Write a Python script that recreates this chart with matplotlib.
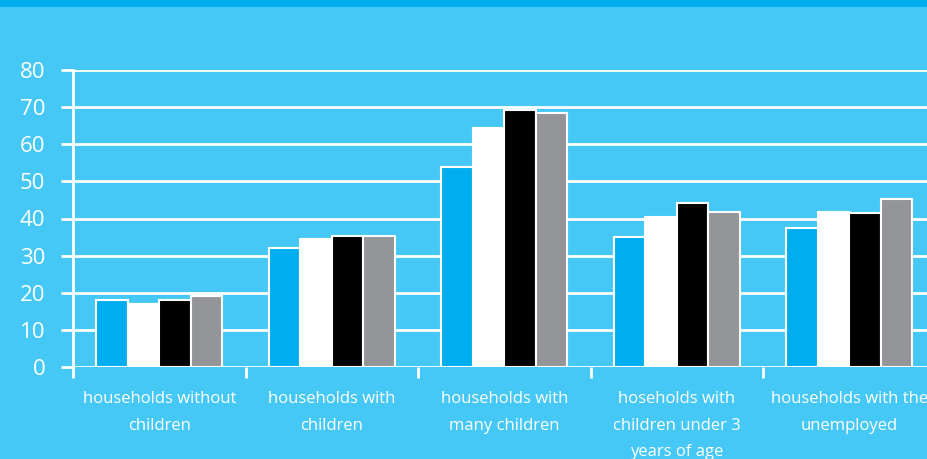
import numpy as np
import matplotlib
matplotlib.use('Agg')
import matplotlib.pyplot as plt
from matplotlib.patches import Rectangle

categories = ['households without\nchildren', 'households with\nchildren',
              'households with\nmany children', 'hoseholds with\nchildren under 3\nyears of age',
              'households with the\nunemployed']
series_1 = [18, 32, 54, 35, 37.4]
series_2 = [17, 34.5, 64.5, 40.5, 41.7]
series_3 = [18, 35.3, 69.3, 44.1, 41.4]
series_4 = [19.1, 35.3, 68.3, 41.8, 45.3]
yticks = [0, 10, 20, 30, 40, 50, 60, 70, 80]

BG = '#45c8f5'
BLUE = '#00aeef'
GREY = '#939598'

fig = plt.figure(figsize=(9.27, 4.59), dpi=100, facecolor=BG)
fig.patches.append(Rectangle((0, 1 - 7 / 459), 1, 7 / 459, transform=fig.transFigure,
                             facecolor=BLUE, edgecolor='none', zorder=0))

# axes runs past the right edge of the figure
ax = fig.add_axes([73 / 927, 92 / 459, 862.5 / 927, 297 / 459])
ax.set_facecolor(BG)

x = np.arange(len(categories))
w = 0.183
offs = np.array([-1.5, -0.5, 0.5, 1.5]) * w
for vals, col, off in zip([series_1, series_2, series_3, series_4],
                          [BLUE, 'white', 'black', GREY], offs):
    ax.bar(x + off, vals, width=w, color=col, edgecolor='white', linewidth=1.5, zorder=3)

ax.set_xlim(-0.5, len(categories) - 0.5)
ax.set_ylim(0, 80)
ax.set_yticks(yticks)
ax.yaxis.grid(True, color='white', linewidth=2, zorder=1)
ax.set_axisbelow(True)
for s in ['top', 'right', 'bottom']:
    ax.spines[s].set_visible(False)
ax.spines['left'].set_color('white')
ax.spines['left'].set_linewidth(2)
ax.tick_params(axis='y', colors='white', length=9, width=2, labelsize=16, pad=11)
for lab in ax.get_yticklabels():
    lab.set_fontfamily('Open Sans')

# boundaries between the categories carry the x ticks
ax.set_xticks(np.arange(len(categories)) - 0.5)
ax.set_xticklabels([])
ax.tick_params(axis='x', colors='white', length=8, width=2, direction='out')
for xi, name in zip(x, categories):
    ax.text(xi, -6.4, name, ha='center', va='top', color='white', fontsize=12,
            family='Open Sans', linespacing=1.9, clip_on=False)

fig.savefig('out.png', dpi=100, facecolor=BG)
